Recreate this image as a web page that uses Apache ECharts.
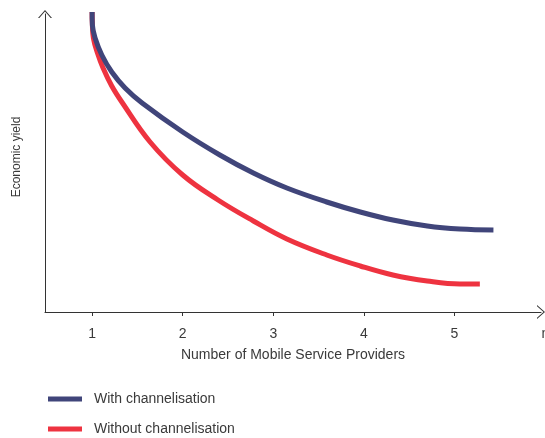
<!DOCTYPE html>
<html>
<head>
<meta charset="utf-8">
<script src="https://cdn.jsdelivr.net/npm/echarts@6/dist/echarts.min.js"></script>
<style>
html,body{margin:0;padding:0;background:#fff;}
#c{width:545px;height:438px;}
</style>
</head>
<body>
<div id="c"></div>
<script>
// x = number of mobile service providers, y = economic yield (relative, no scale shown)
var withX = [1.000, 1.003, 1.033, 1.107, 1.217, 1.364, 1.552, 2.00, 2.41, 2.78, 3.15, 3.59, 3.96, 4.32, 4.70, 5.06, 5.43];
var withY = [300, 287, 274, 257, 240, 224, 209, 180, 157, 139, 124, 110, 100, 92, 86, 83, 82];
var withoutX = [1.000, 1.002, 1.014, 1.063, 1.121, 1.217, 1.328, 1.64, 2.00, 2.39, 2.78, 3.15, 3.59, 3.96, 4.32, 4.70, 5.06, 5.28];
var withoutY = [300, 290, 274, 258, 244, 226, 210, 170, 137, 112, 91, 73, 57, 46, 37, 31, 28, 28];
var tickValues = [1, 2, 3, 4, 5];
var seriesNames = ['With channelisation', 'Without channelisation'];
var xAxisName = 'Number of Mobile Service Providers';
var xAxisEndLabel = 'n';
var yAxisName = 'Economic yield';

function pairs(xs, ys) { return xs.map(function (x, i) { return [x, ys[i]]; }); }

var FONT = 'Liberation Sans';
var TXT = '#3a3a3a';
var AX = '#333333';
var BLUE = '#40457a';
var RED = '#ee3340';
var XMIN = 0.48, XMAX = 5.955;
var arrow = 'path://M0,8 L7,0 L14,8 L12.7,8 L7,1.5 L1.3,8 Z';

var chart = echarts.init(document.getElementById('c'), null, {renderer: 'canvas'});
chart.setOption({
  animation: false,
  backgroundColor: '#ffffff',
  textStyle: {fontFamily: FONT},
  grid: {left: 45, right: 4, top: 14, bottom: 126, containLabel: false, outerBoundsMode: 'none'},
  legend: {
    data: seriesNames,
    orient: 'vertical',
    left: 48,
    top: 390,
    height: 80,
    padding: 0,
    itemWidth: 34,
    itemHeight: 5,
    itemGap: 12,
    icon: 'rect',
    textStyle: {fontFamily: FONT, fontSize: 14, color: TXT, lineHeight: 18, padding: [0, 0, 0, 7]}
  },
  xAxis: {
    type: 'value',
    min: XMIN,
    max: XMAX,
    name: xAxisName,
    nameLocation: 'middle',
    nameGap: 36,
    nameTextStyle: {fontFamily: FONT, fontSize: 14, color: TXT},
    splitLine: {show: false},
    axisLine: {show: true, lineStyle: {color: AX, width: 1}, symbol: ['none', arrow], symbolSize: [14, 8]},
    axisTick: {show: true, customValues: tickValues, length: 4, lineStyle: {color: AX}},
    axisLabel: {
      customValues: tickValues.concat([XMAX]),
      margin: 15,
      fontFamily: FONT,
      fontSize: 14,
      color: TXT,
      formatter: function (v) { return v > 5.5 ? '{n|' + xAxisEndLabel + '}' : String(v); },
      rich: {n: {fontFamily: FONT, fontSize: 14, color: TXT, padding: [0, 0, 0, 9]}}
    }
  },
  yAxis: {
    type: 'value',
    min: 0,
    max: 298,
    name: yAxisName,
    nameLocation: 'middle',
    nameGap: 22,
    nameTextStyle: {fontFamily: FONT, fontSize: 12, color: TXT, padding: [0, 0, 0, 12]},
    splitLine: {show: false},
    axisLine: {show: true, lineStyle: {color: AX, width: 1}, symbol: ['none', arrow], symbolSize: [14, 8]},
    axisTick: {show: false},
    axisLabel: {show: false}
  },
  series: [
    {
      name: seriesNames[0],
      type: 'line',
      data: pairs(withX, withY),
      smooth: 0.4,
      showSymbol: false,
      symbol: 'none',
      clip: false,
      z: 3,
      itemStyle: {color: BLUE},
      lineStyle: {color: BLUE, width: 5, cap: 'butt'}
    },
    {
      name: seriesNames[1],
      type: 'line',
      data: pairs(withoutX, withoutY),
      smooth: 0.4,
      showSymbol: false,
      symbol: 'none',
      clip: false,
      z: 2,
      itemStyle: {color: RED},
      lineStyle: {color: RED, width: 5, cap: 'butt'}
    }
  ]
});
</script>
</body>
</html>
